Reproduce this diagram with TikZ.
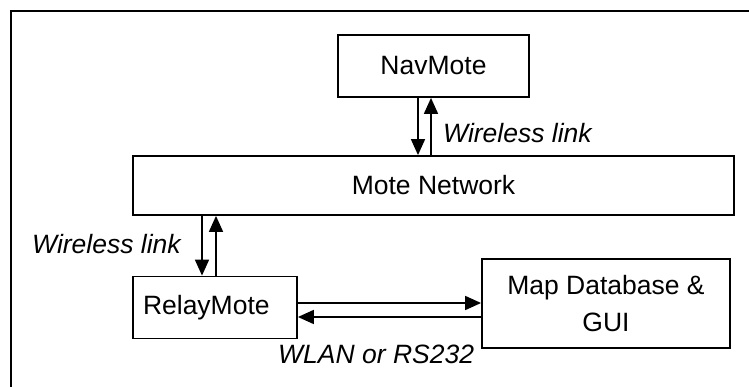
\documentclass[tikz,border=0pt]{standalone}
\usepackage{fontspec}
\setmainfont{Liberation Sans}
\usetikzlibrary{arrows.meta}
\begin{document}
\begin{tikzpicture}[x=1pt,y=-1pt,
  box/.style={draw, line width=1.8pt, inner sep=0pt, font=\fontsize{26.5}{37}\selectfont},
  lbl/.style={font=\fontsize{26.5}{30}\selectfont\itshape, inner sep=0pt},
  link/.style={line width=1.7pt, -{Triangle[length=16pt,width=14pt]}}]
\useasboundingbox (0,0) rectangle (749,387);
\draw[line width=2.5pt] (11,390) -- (11,11) -- (752,11);

\node[box, minimum width=191pt, minimum height=62pt] (nav) at (433.5,66) {NavMote};
\node[box, minimum width=601pt, minimum height=59pt] (net) at (433.5,185.5) {Mote Network};
\node[box, minimum width=164pt, minimum height=62pt, text width=144pt, inner xsep=10pt, align=left] (relay) at (215,307.5) {RelayMote};
\node[box, minimum width=248pt, minimum height=89pt, align=center] (map) at (606,303.5) {Map Database \&\\GUI};

\draw[link] ([xshift=-15.5pt]nav.south) -- ([xshift=-15.5pt]nav.south |- net.north);
\draw[link] ([xshift=-2.5pt]nav.south |- net.north) -- ([xshift=-2.5pt]nav.south);

\draw[link] ([xshift=-13pt]relay.north |- net.south) -- ([xshift=-13pt]relay.north);
\draw[link] ([xshift=1pt]relay.north) -- ([xshift=1pt]relay.north |- net.south);

\draw[link] ([yshift=4.5pt]relay.east) -- ([yshift=4.5pt]relay.east -| map.west);
\draw[link] ([yshift=-9.5pt]relay.east -| map.west) -- ([yshift=-9.5pt]relay.east);

\node[lbl, anchor=base west] (l1) at (443,143) {Wireless link};
\node[lbl, anchor=base west] (l2) at (32,254) {Wireless link};
\node[lbl, anchor=base west] (l3) at (278,363) {WLAN or RS232};
\end{tikzpicture}
\end{document}
